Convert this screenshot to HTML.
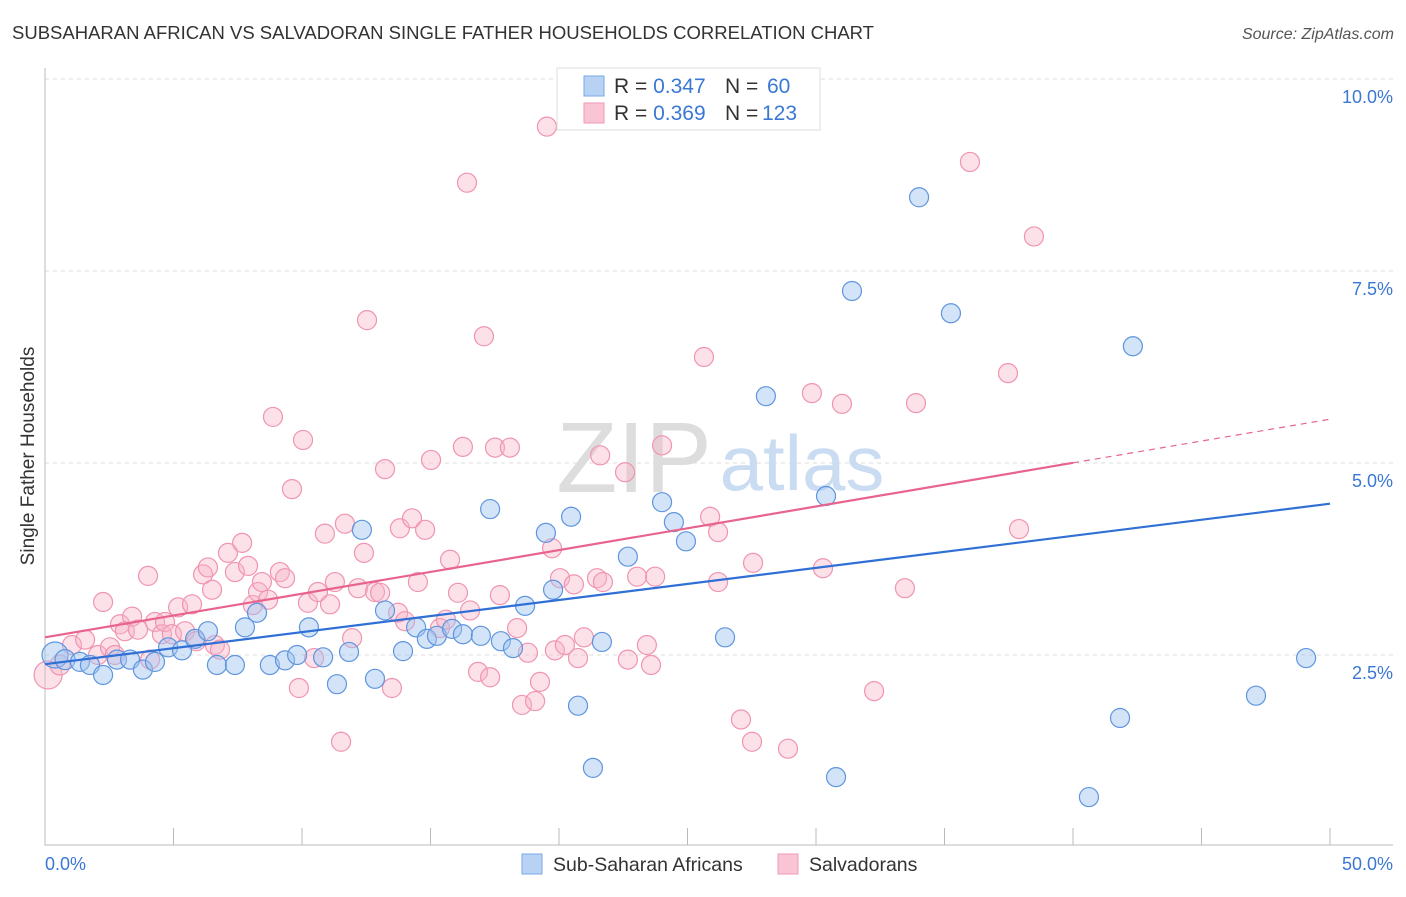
<!DOCTYPE html>
<html><head><meta charset="utf-8"><style>
body{margin:0;background:#fff;font-family:"Liberation Sans",sans-serif}
svg text{font-family:"Liberation Sans",sans-serif}
</style></head><body>
<svg id="chart" width="1406" height="892">
<text x="12" y="39" font-size="18" fill="#333" textLength="862" lengthAdjust="spacingAndGlyphs">SUBSAHARAN AFRICAN VS SALVADORAN SINGLE FATHER HOUSEHOLDS CORRELATION CHART</text>
<text x="1394" y="39" font-size="16" fill="#555" font-style="italic" text-anchor="end">Source: ZipAtlas.com</text>
<text x="0" y="0" transform="translate(34,456) rotate(-90)" font-size="19" fill="#333" text-anchor="middle">Single Father Households</text>
<g id="grid"></g>
<text x="634" y="492" font-size="100" fill="#ddd" font-family="Liberation Serif" text-anchor="middle">ZIP</text>
<text x="802" y="490" font-size="78" fill="#c9dcf2" text-anchor="middle">atlas</text>
<g id="pts"></g>
<g id="lines"></g>
<g>
<rect x="557" y="68" width="263" height="62" fill="#fff" stroke="#ddd"/>
<rect x="584" y="76" width="20" height="20" fill="#b8d2f3" stroke="#7aa8e6"/>
<rect x="584" y="103" width="20" height="20" fill="#f9c4d3" stroke="#ee9ab4"/>
<text x="614" y="93" font-size="21" fill="#333">R = <tspan fill="#3a78d4">0.347</tspan></text>
<text x="725" y="93" font-size="21" fill="#333">N = </text>
<text x="767" y="93" font-size="21" fill="#3a78d4">60</text>
<text x="614" y="120" font-size="21" fill="#333">R = <tspan fill="#3a78d4">0.369</tspan></text>
<text x="725" y="120" font-size="21" fill="#333">N = </text>
<text x="762" y="120" font-size="21" fill="#3a78d4">123</text>
</g>
<g>
<rect x="522" y="854" width="20" height="20" fill="#b8d2f3" stroke="#7aa8e6"/>
<text x="553" y="871" font-size="19.5" fill="#333">Sub-Saharan Africans</text>
<rect x="778" y="854" width="20" height="20" fill="#f9c4d3" stroke="#ee9ab4"/>
<text x="809" y="871" font-size="19.5" fill="#333">Salvadorans</text>
</g>
</svg>
<script>
const yTicks=[2.5,5.0,7.5,10.0];
const xTickLabels=["0.0%","50.0%"];
const blueX=[0.39,0.78,1.36,1.75,2.26,2.80,3.31,3.81,4.28,4.79,5.33,5.84,6.34,6.69,7.39,7.78,8.25,8.75,9.34,9.81,10.27,10.82,11.36,11.83,12.33,12.84,13.23,13.93,14.44,14.86,15.25,15.84,16.26,16.96,17.32,17.74,18.21,18.68,19.49,19.77,20.47,20.74,21.32,21.67,22.68,24.01,24.47,24.94,26.46,28.05,30.39,30.78,31.40,34.01,35.25,40.62,41.83,42.33,47.12,49.07];
const blueY=[2.50,2.44,2.41,2.37,2.24,2.44,2.44,2.31,2.41,2.60,2.56,2.71,2.81,2.37,2.37,2.86,3.05,2.37,2.43,2.50,2.86,2.47,2.12,2.54,4.13,2.19,3.08,2.55,2.86,2.71,2.75,2.84,2.77,2.75,4.40,2.68,2.59,3.14,4.09,3.35,4.30,1.84,1.03,2.67,3.78,4.49,4.23,3.98,2.73,5.87,4.57,0.91,7.24,8.46,6.95,0.65,1.68,6.52,1.97,2.46];
const pinkX=[0.12,0.58,1.05,1.56,2.06,2.26,2.53,2.72,2.92,3.11,3.39,3.62,4.01,4.09,4.28,4.55,4.67,4.94,5.18,5.45,5.72,5.88,6.15,6.34,6.50,6.61,6.81,7.12,7.39,7.67,7.90,8.09,8.29,8.44,8.68,8.87,9.14,9.34,9.61,9.88,10.04,10.23,10.47,10.62,10.89,11.09,11.28,11.52,11.67,11.95,12.18,12.41,12.53,12.84,13.04,13.23,13.50,13.74,13.81,14.01,14.28,14.51,14.79,15.02,15.37,15.60,15.76,16.07,16.26,16.42,16.54,16.85,17.08,17.32,17.51,17.70,18.09,18.37,18.56,18.79,19.07,19.26,19.53,19.73,19.84,20.04,20.23,20.58,20.74,20.97,21.48,21.60,21.71,22.57,22.68,23.04,23.42,23.58,23.74,24.01,25.64,25.88,26.19,26.19,27.08,27.51,27.55,28.91,29.84,30.27,31.01,32.26,33.46,33.89,35.99,37.47,37.90,38.48];
const pinkY=[2.24,2.37,2.63,2.70,2.50,3.19,2.60,2.50,2.90,2.81,3.00,2.83,3.53,2.44,2.93,2.77,2.93,2.77,3.12,2.81,3.16,2.68,3.55,3.64,3.35,2.63,2.57,3.83,3.58,3.96,3.66,3.15,3.32,3.45,3.22,5.60,3.58,3.50,4.66,2.07,5.30,3.18,2.46,3.32,4.08,3.16,3.45,1.37,4.21,2.72,3.37,3.83,6.86,3.32,3.31,4.92,2.07,3.05,4.15,2.94,4.28,3.45,4.13,5.04,2.85,2.96,3.74,3.31,5.21,8.65,3.08,2.28,6.65,2.21,5.20,3.28,5.20,2.85,1.85,2.53,1.90,2.15,9.38,3.89,2.56,3.50,2.63,3.42,2.46,2.73,3.50,5.10,3.45,4.88,2.44,3.52,2.63,2.37,3.52,5.23,6.38,4.30,4.10,3.45,1.66,1.37,3.70,1.28,5.91,3.63,5.77,2.03,3.37,5.78,8.92,6.17,4.14,7.95];
const blueTrend=[2.38,4.47];
const pinkTrend=[2.73,5.57];
const NS="http://www.w3.org/2000/svg";
const sx=v=>45+v*25.7, sy=v=>847-v*76.8;
function mk(tag,attrs,parent){const e=document.createElementNS(NS,tag);for(const k in attrs)e.setAttribute(k,attrs[k]);parent.appendChild(e);return e;}
const grid=document.getElementById('grid');
yTicks.forEach(t=>{
 const l=mk('line',{x1:45,x2:1393,y1:sy(t),y2:sy(t),stroke:'#ddd','stroke-dasharray':'4,4'},grid);
 
 
 const tx=mk('text',{x:1393,y:sy(t)+24,'font-size':18,fill:'#3a78d4','text-anchor':'end'},grid);
 tx.textContent=t.toFixed(1)+'%';
 
 
});
const ax=mk('path',{d:'M45 68V845H1393',stroke:'#bbb',fill:'none'},grid);


for(let i=0;i<=10;i++){const t=mk('line',{x1:sx(i*5),x2:sx(i*5),y1:828,y2:845,stroke:'#bbb'},grid);
 
 }
[[0,'start',45],[50,'end',1393]].forEach((d,i)=>{const t=mk('text',{x:d[2],y:870,'font-size':18,fill:'#3a78d4','text-anchor':d[1]},grid);t.textContent=xTickLabels[i];
 
 });
const pts=document.getElementById('pts');
function draw(X,Y,fill,stroke,name){X.forEach((x,i)=>{const c=mk('circle',{cx:sx(x),cy:sy(Y[i]),r:i<2?(name==='pink-point'&&i==0?14:i==0?13:10):9.5,fill:fill,stroke:stroke,'stroke-width':1.2},pts);
 
 });}
draw(pinkX,pinkY,'rgba(248,180,200,0.4)','#f094b1','pink-point');
draw(blueX,blueY,'rgba(160,196,240,0.45)','#5f95de','blue-point');
const lines=document.getElementById('lines');
const bl=mk('line',{x1:sx(0),y1:sy(blueTrend[0]),x2:sx(50),y2:sy(blueTrend[1]),stroke:'#2f6fd6','stroke-width':2.2},lines);


const pm=v=>pinkTrend[0]+(pinkTrend[1]-pinkTrend[0])*v/50;
const pl=mk('line',{x1:sx(0),y1:sy(pinkTrend[0]),x2:sx(40),y2:sy(pm(40)),stroke:'#e8648e','stroke-width':2.2},lines);


const pd=mk('line',{x1:sx(40),y1:sy(pm(40)),x2:sx(50),y2:sy(pinkTrend[1]),stroke:'#e8648e','stroke-width':1.2,'stroke-dasharray':'6,5'},lines);


</script>
</body></html>
